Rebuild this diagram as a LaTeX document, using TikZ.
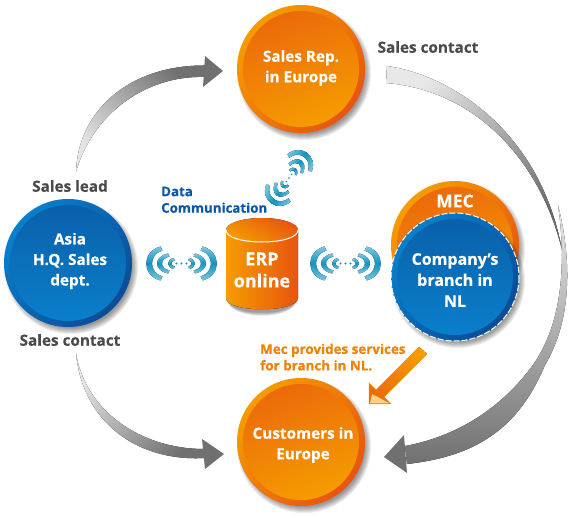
\documentclass[tikz,border=0pt]{standalone}
\usepackage{fontspec}
\setmainfont{Open Sans}[BoldFont={Open Sans Bold},BoldFeatures={FakeBold=0.5}]
\definecolor{oLight}{HTML}{F59C00}
\definecolor{oDark}{HTML}{E8540F}
\definecolor{oMid}{HTML}{EC6A0A}
\definecolor{bLight}{HTML}{0A7FCB}
\definecolor{bDark}{HTML}{0A4C97}
\definecolor{bTop}{HTML}{0A60A9}
\definecolor{arrowGray}{HTML}{707070}
\definecolor{labelGray}{HTML}{4A4A4A}
\definecolor{dataBlue}{HTML}{0B57A4}
\definecolor{labelOrange}{HTML}{EE8208}
\definecolor{wifiTeal}{HTML}{0F94C0}
\definecolor{wifiTip}{HTML}{7CC8E0}
\definecolor{peach}{HTML}{FBD48A}
\tikzset{
  ball/.style={circle,minimum size=128pt,inner sep=0pt,outer sep=0pt},
  core/.style={circle,minimum size=116pt,inner sep=0pt,outer sep=0pt},
  orangeRing/.style={ball,top color=oLight,bottom color=oDark,shading angle=50},
  orangeCore/.style={core,top color=oMid,bottom color=oLight,shading angle=20},
  blueRing/.style={ball,top color=bLight,bottom color=bDark,shading angle=50},
  blueCore/.style={core,top color=bTop,bottom color=bLight,shading angle=0},
  whiteText/.style={text=white,font=\bfseries\fontsize{15.3}{20.5}\selectfont,align=center,inner sep=0pt},
  grayText/.style={text=labelGray,font=\bfseries\fontsize{15.3}{18}\selectfont,inner sep=0pt},
  blueText/.style={text=dataBlue,font=\bfseries\fontsize{13.3}{16.5}\selectfont,align=left,inner sep=0pt},
  orangeText/.style={text=labelOrange,font=\bfseries\fontsize{13.4}{16.5}\selectfont,align=left,inner sep=0pt},
  wifiArc/.style={top color=wifiTip,bottom color=wifiTip,middle color=wifiTeal,draw=none},
}
\newcommand{\softshadow}[3]{%
  \foreach \rr in {0,1,...,6}{\fill[black,opacity=.07] (#1+3,#2+4) circle[radius=#3+3-\rr];}}
\newcommand{\wifibody}[1]{%
  \foreach \sg in {-1,1}{
    \fill[wifiArc,#1] (\sg*21,-17) .. controls (\sg*40,-12) and (\sg*40,12) .. (\sg*21,17)
      -- (\sg*19,13) .. controls (\sg*33,9) and (\sg*33,-9) .. (\sg*19,-13) -- cycle;
    \fill[wifiArc,#1] (\sg*13.5,-10) .. controls (\sg*28,-7) and (\sg*28,7) .. (\sg*13.5,10)
      -- (\sg*12,7) .. controls (\sg*22,5) and (\sg*22,-5) .. (\sg*12,-7) -- cycle;
    \fill[wifiArc,#1] (\sg*7.5,-5.5) .. controls (\sg*15.5,-4) and (\sg*15.5,4) .. (\sg*7.5,5.5)
      -- (\sg*7,3) .. controls (\sg*11,2) and (\sg*11,-2) .. (\sg*7,-3) -- cycle;
  }
  \foreach \dx in {-5,0,5}{\fill[wifiTeal] (\dx,0) circle[radius=1.1];}
}
\begin{document}
\begin{tikzpicture}[x=1pt,y=-1pt]
\useasboundingbox (0,0) rectangle (573,518);
% gradient arrows
\fill[top color=arrowGray,middle color=gray!75,bottom color=gray!20,shading angle=-45]
  (76,172) .. controls (78,110) and (130,65) .. (205,65.5) -- (205,77)
  .. controls (145,75) and (92,115) .. (76,172) -- cycle;
\fill[arrowGray] (223,71) -- (205,56) -- (203,87) -- cycle;
\fill[top color=gray!20,middle color=gray!75,bottom color=arrowGray,shading angle=45]
  (76,353) .. controls (85,410) and (140,449) .. (204,449) -- (205,458)
  .. controls (135,462) and (82,420) .. (76,353) -- cycle;
\fill[arrowGray] (224,454) -- (202,439) -- (205,469) -- cycle;
\fill[top color=gray!18,bottom color=gray!85!black,shading angle=45]
  (387,66) .. controls (450,75) and (540,130) .. (562,250)
  .. controls (540,160) and (475,90) .. (386,83) -- cycle;
\fill[top color=gray!18,middle color=gray!75,bottom color=arrowGray]
  (558,205) .. controls (572,260) and (572,320) .. (545,365)
  .. controls (520,425) and (480,456) .. (407,464) -- (405,446)
  .. controls (460,436) and (505,405) .. (535,362)
  .. controls (563,320) and (566,260) .. (558,205) -- cycle;
\fill[arrowGray] (384,457) -- (404,435) -- (407,473) -- cycle;
% shadows and balls
\softshadow{301}{69}{64}
\node[orangeRing] (rep) at (301,69) {};
\node[orangeCore] at (301,69) {};
\node[whiteText] (repT) at (301,68) {Sales Rep.\\in Europe};
\softshadow{301}{442}{64}
\node[orangeRing] (cust) at (301,442) {};
\node[orangeCore] at (301,442) {};
\node[whiteText] (custT) at (303,445) {Customers in\\Europe};
\softshadow{68}{263}{64}
\node[blueRing] (asia) at (68,263) {};
\node[blueCore] at (68,263) {};
\node[whiteText] (asiaT) at (70,261) {Asia\\H.Q. Sales\\dept.};
\softshadow{455}{245}{64}
\node[orangeRing] (mec) at (455,245) {};
\node[orangeCore] at (455,245) {};
\node[whiteText,font=\bfseries\fontsize{17.5}{20}\selectfont] (mecT) at (455,201) {MEC};
\softshadow{455}{277}{64}
\node[blueRing] (branch) at (455,277) {};
\node[blueCore] at (455,277) {};
\draw[white,line width=1pt,dash pattern=on 6pt off 2pt] (455,277) circle[radius=64];
\node[whiteText,font=\bfseries\fontsize{16}{21}\selectfont] (branchT) at (455,280) {Company’s\\branch in\\NL};
% wifi
\begin{scope}[shift={(181.5,263.5)}]\wifibody{}\end{scope}
\begin{scope}[shift={(345.5,263.5)}]\wifibody{}\end{scope}
\begin{scope}[shift={(289,178)},x={(0.505pt,0.72pt)},y={(0.72pt,-0.505pt)}]\wifibody{shading angle=55}\end{scope}
% cylinder
\foreach \k in {0,1,2,3,4}{\fill[black,opacity=.09] (229-\k*.5,300) .. controls (229,317+\k) and (295,317+\k) .. (295+\k*.5,300) -- cycle;}
\fill[left color=oLight,right color=oDark] (226,230) -- (226,298) .. controls (226,313) and (298,313) .. (298,298) -- (298,230) -- cycle;
\fill[top color=oDark,bottom color=oLight,shading angle=-30] (262,230) ellipse[x radius=36,y radius=12];
\draw[white,line width=1pt] (226,230) .. controls (226,246) and (298,246) .. (298,230);
\node[whiteText,font=\bfseries\fontsize{18}{22}\selectfont] (erp) at (262,270) {ERP\\online};
% orange arrow
\fill[top color=oLight,bottom color=oMid,shading angle=-45,draw=oLight,line width=.4pt]
 (419,347) -- (427,354) -- (384,397) -- (391,404) -- (369,404) -- (369,383) -- (376,390) -- cycle;
\fill[peach] (370,403.5) -- (390,403.5) -- (372,394) -- cycle;
% labels
\node[grayText] (lead) at (70,186) {Sales lead};
\node[grayText] (c1) at (70,340) {Sales contact};
\node[grayText] (c2) at (428,47) {Sales contact};
\node[blueText,anchor=north west] (data) at (161,186.5) {Data\\Communication};
\node[orangeText,anchor=north west] (svc) at (260,343.5) {Mec provides services\\for branch in NL.};
\end{tikzpicture}
\end{document}
